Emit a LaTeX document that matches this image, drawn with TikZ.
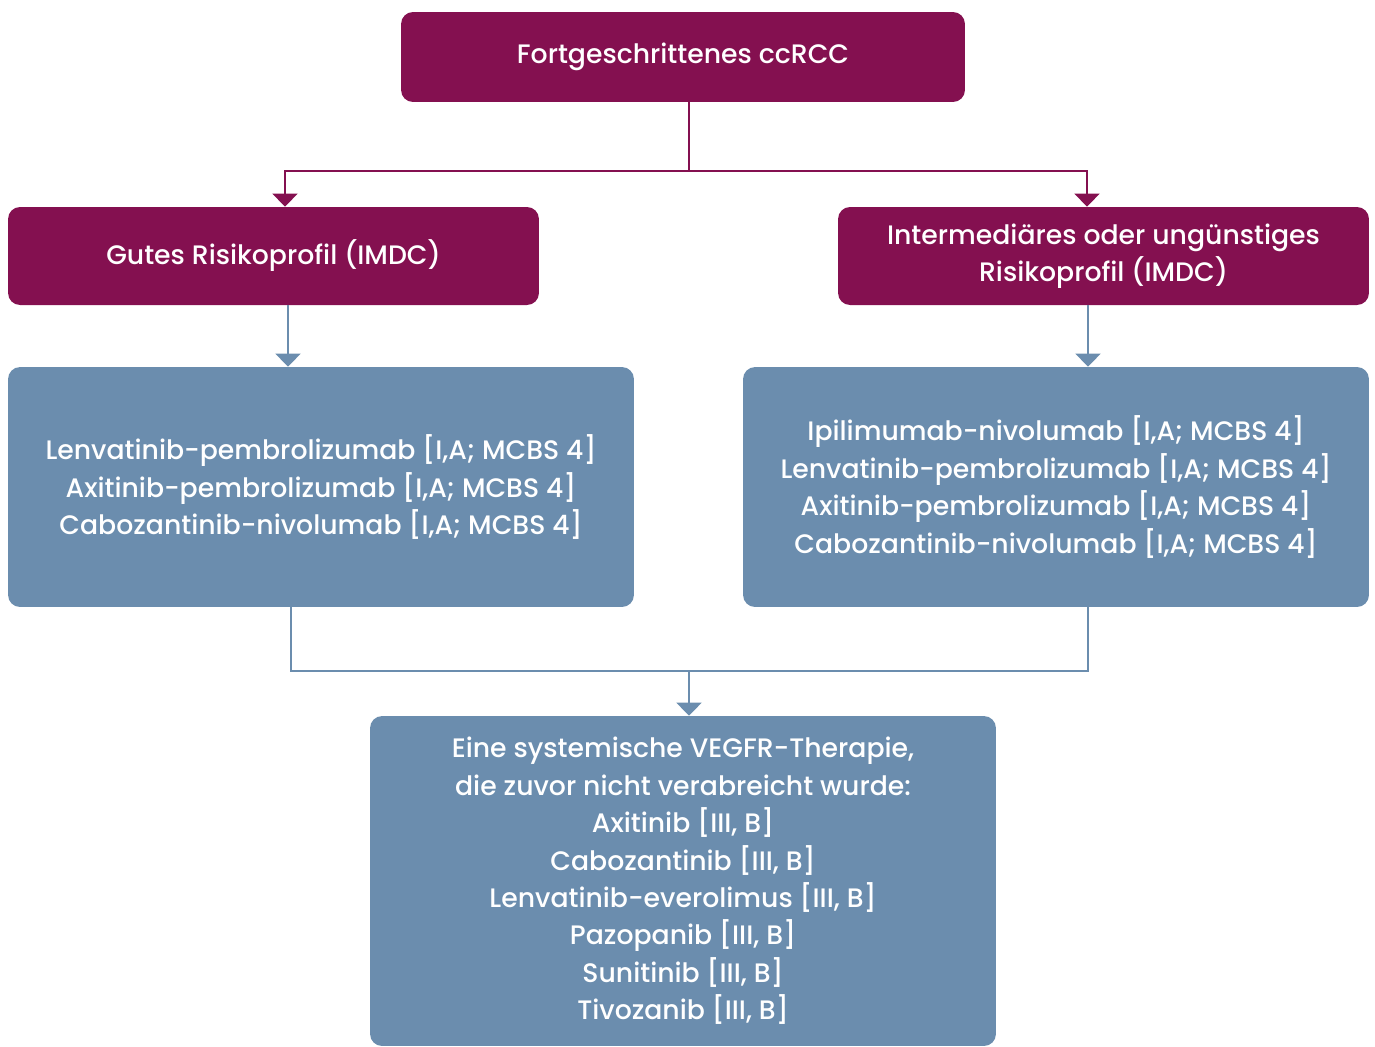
\documentclass[tikz,border=0pt]{standalone}
\usepackage{fontspec}
\setmainfont{Poppins}[UprightFont=* Medium]
\usetikzlibrary{arrows.meta,calc}
\definecolor{Purple}{RGB}{132,16,80}
\definecolor{Steel}{RGB}{107,141,174}

\begin{document}
\begin{tikzpicture}[x=0.02cm,y=-0.02cm,
  box/.style={rounded corners=0.24cm,text=white,align=center,inner sep=0pt,
    font=\fontsize{15.2}{21.3}\selectfont},
  riskbox/.style={box,fill=Purple},
  therbox/.style={box,fill=Steel},
  pline/.style={Purple,line width=1.1pt},
  bline/.style={Steel,line width=1.1pt},
  tip/.style={-{Triangle[width=0.5cm,length=0.26cm]}}]
  \useasboundingbox (0,0) rectangle (1375,1046);
  \node[riskbox,minimum width=11.28cm,minimum height=1.8cm] (top) at (683,57) {Fortgeschrittenes ccRCC};
  \node[riskbox,minimum width=10.62cm,minimum height=1.96cm] (good) at (273.5,256) {Gutes Risikoprofil (IMDC)};
  \node[riskbox,minimum width=10.62cm,minimum height=1.96cm] (poor) at (1103.5,256)
    {Intermediäres oder ungünstiges\\Risikoprofil (IMDC)};
  \node[therbox,minimum width=12.52cm,minimum height=4.8cm] (goodth) at (321,487)
    {Lenvatinib-pembrolizumab [I,A; MCBS 4]\\Axitinib-pembrolizumab [I,A; MCBS 4]\\Cabozantinib-nivolumab [I,A; MCBS 4]};
  \node[therbox,minimum width=12.52cm,minimum height=4.8cm] (poorth) at (1056,487)
    {Ipilimumab-nivolumab [I,A; MCBS 4]\\Lenvatinib-pembrolizumab [I,A; MCBS 4]\\Axitinib-pembrolizumab [I,A; MCBS 4]\\Cabozantinib-nivolumab [I,A; MCBS 4]};
  \node[therbox,minimum width=12.52cm,minimum height=6.6cm] (second) at (683,881)
    {Eine systemische VEGFR-Therapie,\\die zuvor nicht verabreicht wurde:\\Axitinib [III, B]\\Cabozantinib [III, B]\\Lenvatinib-everolimus [III, B]\\Pazopanib [III, B]\\Sunitinib [III, B]\\Tivozanib [III, B]};
  \coordinate (j1) at (689,171);
  \coordinate (j2) at (689,671);
  \coordinate (gx) at (288,0);
  \coordinate (px) at (1088,0);
  \draw[pline] (top.south -| j1) -- (j1);
  \draw[pline,tip] (j1) -| (good.north -| 285,0);
  \draw[pline,tip] (j1) -| (poor.north -| 1087,0);
  \draw[bline,tip] (good.south -| gx) -- (goodth.north -| gx);
  \draw[bline,tip] (poor.south -| px) -- (poorth.north -| px);
  \draw[bline] (goodth.south -| 291,0) |- (j2) -| (poorth.south -| px);
  \draw[bline,tip] (j2) -- (second.north -| j2);
\end{tikzpicture}
\end{document}
